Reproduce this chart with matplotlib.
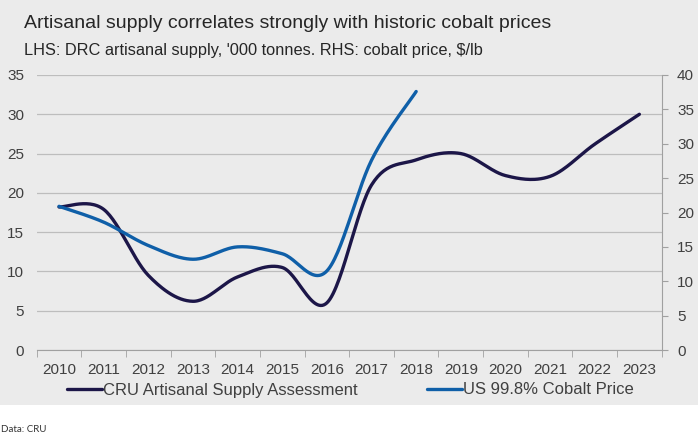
import numpy as np
import matplotlib
matplotlib.use("Agg")
import matplotlib.pyplot as plt
from matplotlib.patches import Rectangle

years = [2010, 2011, 2012, 2013, 2014, 2015, 2016, 2017, 2018, 2019, 2020, 2021, 2022, 2023]
supply = [18.2, 17.9, 9.5, 6.2, 9.3, 10.5, 6.0, 21.0, 24.2, 25.0, 22.2, 22.1, 26.2, 30.0]
price = [20.9, 18.6, 15.2, 13.2, 15.0, 14.0, 11.5, 27.6, 37.6]

BG = '#ebebeb'
DARK = '#1c1648'
BLUE = '#0f5fa8'
GRID = '#bdbdbd'
TXT = '#404040'

plt.rcParams['font.family'] = ['Liberation Sans', 'DejaVu Sans']


def smooth(y, n=30):
    # excel style smoothed line: bezier segments through every point
    y = np.asarray(y, dtype=float)
    x = np.arange(len(y), dtype=float)
    pts = np.column_stack([x, y])
    out = [pts[0]]
    t = np.linspace(0, 1, n)[1:, None]
    for i in range(len(pts) - 1):
        p0 = pts[max(i - 1, 0)]
        p1 = pts[i]
        p2 = pts[i + 1]
        p3 = pts[min(i + 2, len(pts) - 1)]
        c1 = p1 + (p2 - p0) / 6.0
        c2 = p2 - (p3 - p1) / 6.0
        seg = ((1 - t) ** 3) * p1 + 3 * ((1 - t) ** 2) * t * c1 + 3 * (1 - t) * t ** 2 * c2 + t ** 3 * p2
        out.extend(seg)
    out = np.array(out)
    return out[:, 0], out[:, 1]


fig = plt.figure(figsize=(6.98, 4.33), dpi=100)
fig.patch.set_facecolor('white')
fig.patches.append(Rectangle((0, 1 - 405 / 433), 1, 405 / 433, transform=fig.transFigure,
                             facecolor=BG, edgecolor='none', zorder=-10))

ax = fig.add_axes([36.7 / 698, 1 - 350 / 433, (661.7 - 36.7) / 698, 275 / 433])
ax.set_facecolor(BG)
ax2 = ax.twinx()

xs, ys = smooth(supply)
l1, = ax.plot(xs, ys, color=DARK, lw=2.4, solid_capstyle='round', label='CRU Artisanal Supply Assessment', zorder=3)
xp, yp = smooth(price)
l2, = ax2.plot(xp, yp, color=BLUE, lw=2.4, solid_capstyle='round', label='US 99.8% Cobalt Price', zorder=3)

ax.set_xlim(-0.5, len(years) - 0.5)
ax.set_ylim(0, 35)
ax2.set_ylim(0, 40)
ax.set_yticks(range(0, 36, 5))
ax2.set_yticks(range(0, 41, 5))
ax.yaxis.grid(True, color=GRID, lw=0.9)
ax.set_axisbelow(True)

ax.set_xticks(range(len(years)))
ax.set_xticklabels([str(y) for y in years])
ax.set_xticks(np.arange(-0.5, len(years)), minor=True)
ax.tick_params(axis='x', which='major', length=0, pad=9, labelsize=11, labelcolor=TXT)
ax.tick_params(axis='x', which='minor', length=5, color='#a0a0a0', direction='out')
ax.tick_params(axis='y', length=0, pad=9, labelsize=11, labelcolor=TXT)
ax2.tick_params(axis='y', length=4, color='#a0a0a0', pad=7, labelsize=11, labelcolor=TXT)

for a in (ax, ax2):
    for s in ('top', 'left', 'right'):
        a.spines[s].set_visible(False)
    a.spines['bottom'].set_color('#a0a0a0')
ax2.spines['right'].set_visible(True)
ax2.spines['right'].set_color('#a0a0a0')
ax2.spines['bottom'].set_visible(False)

leg = fig.legend(handles=[l1, l2], loc='center left', bbox_to_anchor=(67 / 698, 1 - 390 / 433), ncol=2,
                 frameon=False, fontsize=12, handlelength=2.1, handletextpad=0.05,
                 columnspacing=4.2, labelcolor=TXT, borderaxespad=0, borderpad=0)

fig.text(24 / 698, 1 - 23 / 433, 'Artisanal supply correlates strongly with historic cobalt prices',
         fontsize=14, color='#262626', va='center', ha='left')
fig.text(24 / 698, 1 - 50 / 433, "LHS: DRC artisanal supply, '000 tonnes. RHS: cobalt price, $/lb",
         fontsize=11.75, color='#262626', va='center', ha='left')
fig.text(1 / 698, 1 - 429 / 433, 'Data: CRU', fontsize=7, color='#333333', va='center', ha='left',
         family=['Lato', 'DejaVu Sans'])

fig.savefig('out.png', dpi=100, facecolor=fig.get_facecolor())
